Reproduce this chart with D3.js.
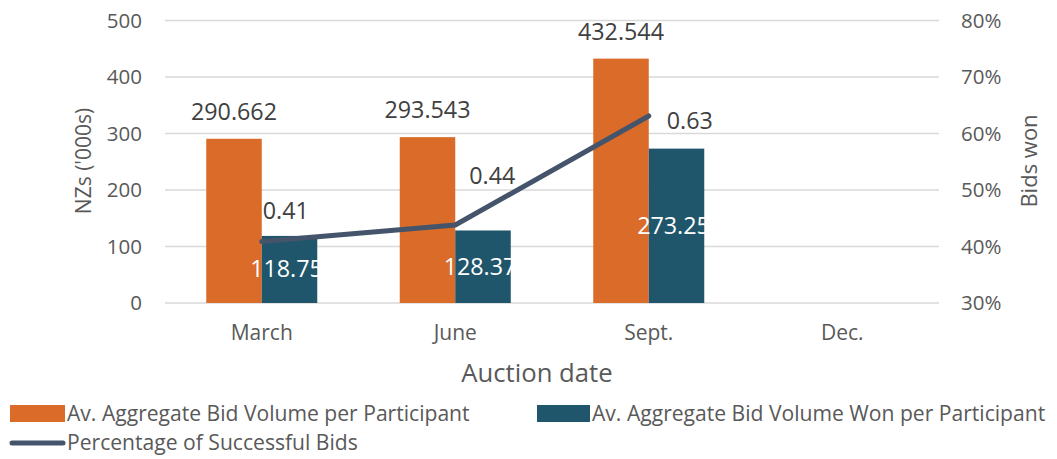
<!DOCTYPE html>
<html><head><meta charset="utf-8">
<script src="https://cdn.jsdelivr.net/npm/d3@7"></script>
<style>body{margin:0;background:#fff}svg{display:block;font-family:"Open Sans",sans-serif}</style>
</head><body><svg id="c" width="1057" height="459"></svg>
<script>
const categories = ["March", "June", "Sept.", "Dec."];
const bidVolume = [290.662, 293.543, 432.544, null];
const bidWon = [118.75, 128.37, 273.25, null];
const successPct = [0.409, 0.438, 0.631, null];
const leftTicks = [0, 100, 200, 300, 400, 500];
const rightTicks = [0.3, 0.4, 0.5, 0.6, 0.7, 0.8];
const seriesNames = ["Av. Aggregate Bid Volume per Participant", "Av. Aggregate Bid Volume Won per Participant", "Percentage of Successful Bids"];

const colors = {orange: "#DA6B28", teal: "#1F566B", line: "#44546A", grid: "#D9D9D9", tick: "#595959", label: "#404040"};
const svg = d3.select("#c");
const L = 165, R = 939, T = 20.5, B = 303;

const x0 = d3.scaleBand().domain(categories).range([L, R]);
const x1 = d3.scaleBand().domain(["vol", "won"]).range([0, x0.bandwidth()]).paddingOuter(0.743);
const y = d3.scaleLinear().domain([0, 500]).range([B, T]);
const y2 = d3.scaleLinear().domain([0.3, 0.8]).range([B, T]);

// gridlines
svg.append("g").selectAll("line").data(leftTicks).join("line")
  .attr("x1", L).attr("x2", R).attr("y1", d => y(d)).attr("y2", d => y(d))
  .attr("stroke", colors.grid).attr("stroke-width", 1.3);

// left axis
const ax = svg.append("g").attr("transform", `translate(${L},0)`)
  .call(d3.axisLeft(y).tickValues(leftTicks).tickSize(0).tickPadding(23));
ax.select(".domain").remove();
ax.selectAll("text").attr("font-size", 20.5).attr("fill", colors.tick).attr("font-family", "Open Sans");

const ax2 = svg.append("g").attr("transform", `translate(${R},0)`)
  .call(d3.axisRight(y2).tickValues(rightTicks).tickFormat(d3.format(".0%")).tickSize(0).tickPadding(22));
ax2.select(".domain").remove();
ax2.selectAll("text").attr("font-size", 20.5).attr("fill", colors.tick).attr("font-family", "Open Sans");

const axb = svg.append("g").attr("transform", `translate(0,${B})`)
  .call(d3.axisBottom(x0).tickSize(0).tickPadding(22));
axb.select(".domain").remove();
axb.selectAll("text").attr("font-size", 21).attr("fill", colors.tick).attr("font-family", "Open Sans");

// bars
const idx = d3.range(categories.length).filter(i => bidVolume[i] != null);
svg.append("g").selectAll("rect").data(idx).join("rect")
  .attr("x", i => x0(categories[i]) + x1("vol")).attr("width", x1.bandwidth())
  .attr("y", i => y(bidVolume[i])).attr("height", i => B - y(bidVolume[i]))
  .attr("fill", colors.orange);
svg.append("g").selectAll("rect").data(idx).join("rect")
  .attr("x", i => x0(categories[i]) + x1("won")).attr("width", x1.bandwidth())
  .attr("y", i => y(bidWon[i])).attr("height", i => B - y(bidWon[i]))
  .attr("fill", colors.teal);

// bar labels
svg.append("g").selectAll("text").data(idx).join("text")
  .attr("x", i => x0(categories[i]) + x1("vol") + x1.bandwidth() / 2)
  .attr("y", i => y(bidVolume[i]) - 19)
  .attr("text-anchor", "middle").attr("font-size", 23.3).attr("fill", colors.label)
  .text(i => d3.format(".3f")(bidVolume[i]));
svg.append("g").selectAll("text").data(idx).join("text")
  .attr("x", i => x0(categories[i]) + x1("won") + x1.bandwidth() / 2 - 3)
  .attr("y", i => (y(bidWon[i]) + B) / 2 + 8)
  .attr("text-anchor", "middle").attr("font-size", 23.3).attr("fill", "#fff")
  .text(i => d3.format(".2f")(bidWon[i]));

// line
const pts = idx.map(i => [x0(categories[i]) + x0.bandwidth() / 2, y2(successPct[i])]);
svg.append("path").attr("d", d3.line()(pts)).attr("fill", "none")
  .attr("stroke", colors.line).attr("stroke-width", 5).attr("stroke-linecap", "round").attr("stroke-linejoin", "round");
const lblOff = [[24, -22], [37, -41], [41, 13]];
svg.append("g").selectAll("text").data(idx).join("text")
  .attr("x", (i, k) => pts[k][0] + lblOff[k][0])
  .attr("y", (i, k) => pts[k][1] + lblOff[k][1])
  .attr("text-anchor", "middle").attr("font-size", 23.3).attr("fill", colors.label)
  .text(i => d3.format(".2f")(successPct[i]));

// axis titles
svg.append("text").attr("transform", "translate(91,161) rotate(-90)")
  .attr("text-anchor", "middle").attr("font-size", 21).attr("fill", colors.tick).text("NZs ('000s)");
svg.append("text").attr("transform", "translate(1037,161) rotate(-90)")
  .attr("text-anchor", "middle").attr("font-size", 22).attr("fill", colors.tick).text("Bids won");
svg.append("text").attr("x", 537).attr("y", 382)
  .attr("text-anchor", "middle").attr("font-size", 25.7).attr("fill", colors.tick).text("Auction date");

// legend
const lg = svg.append("g");
lg.append("rect").attr("x", 10).attr("y", 405).attr("width", 55).attr("height", 17).attr("fill", colors.orange);
lg.append("text").attr("x", 67).attr("y", 421).attr("font-size", 21.1).attr("fill", colors.tick).text(seriesNames[0]);
lg.append("rect").attr("x", 537).attr("y", 405).attr("width", 53).attr("height", 17).attr("fill", colors.teal);
lg.append("text").attr("x", 592).attr("y", 421).attr("font-size", 21.1).attr("fill", colors.tick).text(seriesNames[1]);
lg.append("line").attr("x1", 12).attr("x2", 63).attr("y1", 443).attr("y2", 443)
  .attr("stroke", colors.line).attr("stroke-width", 5).attr("stroke-linecap", "round");
lg.append("text").attr("x", 67).attr("y", 450).attr("font-size", 21.1).attr("fill", colors.tick).text(seriesNames[2]);
</script></body></html>
